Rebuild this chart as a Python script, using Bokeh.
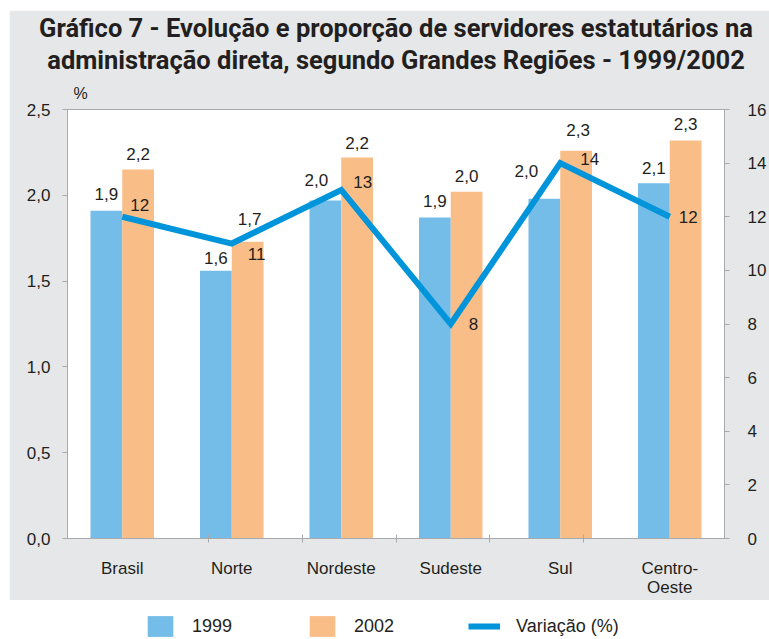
from bokeh.plotting import figure
from bokeh.models import (FactorRange, Range1d, LinearAxis, CategoricalAxis, FixedTicker,
                          Title, Legend, LegendItem, ColumnDataSource)
from bokeh.transform import dodge
from bokeh.layouts import column
from bokeh.embed import file_html
from bokeh.resources import INLINE

# ---------------- data ----------------
categories = ["Brasil", "Norte", "Nordeste", "Sudeste", "Sul", "Centro-\nOeste"]
prop_1999 = [1.91, 1.56, 1.97, 1.87, 1.98, 2.07]
prop_2002 = [2.15, 1.73, 2.22, 2.02, 2.26, 2.32]
labels_1999 = ["1,9", "1,6", "2,0", "1,9", "2,0", "2,1"]
labels_2002 = ["2,2", "1,7", "2,2", "2,0", "2,3", "2,3"]
variacao = [12, 11, 13, 8, 14, 12]
variacao_labels = ["12", "11", "13", "8", "14", "12"]
left_ticks = [0.0, 0.5, 1.0, 1.5, 2.0, 2.5]
left_tick_labels = ["0,0", "0,5", "1,0", "1,5", "2,0", "2,5"]
right_ticks = [0, 2, 4, 6, 8, 10, 12, 14, 16]
boundaries = ["b1", "b2", "b3", "b4", "b5"]   # separators between the regions

# label nudges (pixels)
var_dx = [8, 16, 12, 18, 20, 9]
var_dy = [-12, 10, -8, 0, -4, 0]
l99_dx = [0, 0, -9, 0, -18, 0]
l99_dy = [-17, -13, -20, -17, -28, -15]
l02_dx = [0, 2, 0, 0, 2, 0]
l02_dy = [-16, -23, -15, -16, -21, -16]

# ---------------- style ----------------
C99 = "#74bde8"
C02 = "#f9bd87"
CLINE = "#0095da"
GREY_BG = "#e6e7e8"
AXIS = "#a7a9ac"
TXT = "#231f20"
FONT = "Liberation Sans"
TFONT = "Roboto"
FS = "17px"

src = ColumnDataSource(dict(cat=categories, p99=prop_1999, p02=prop_2002,
                            l99=labels_1999, l02=labels_2002,
                            var=variacao, vl=variacao_labels, dx=var_dx, dy=var_dy,
                            dx99=l99_dx, dy99=l99_dy, dx02=l02_dx, dy02=l02_dy))

p = figure(x_range=FactorRange(factors=categories), y_range=Range1d(0, 2.5),
           width=760, height=590, output_backend="svg", toolbar_location=None,
           x_axis_location=None, min_border_left=58, min_border_right=42,
           min_border_bottom=62, min_border_top=97, margin=(10, 0, 0, 9))
p.border_fill_color = GREY_BG
p.background_fill_color = "white"
p.outline_line_color = AXIS
p.xgrid.visible = False
p.ygrid.visible = False

p.extra_y_ranges = {"var": Range1d(0, 16)}
p.extra_x_ranges = {"bnd": FactorRange(factors=boundaries, range_padding=1,
                                       range_padding_units="absolute")}

# titles (added from the frame outward)
p.add_layout(Title(text="%", align="left", offset=6, text_font=FONT, text_font_size="16px",
                   text_font_style="normal", text_color=TXT, standoff=16), "above")
p.add_layout(Title(text="administração direta, segundo Grandes Regiões - 1999/2002",
                   align="center", text_font=TFONT, text_font_size="25.5px",
                   text_font_style="bold", text_color=TXT, standoff=0), "above")
p.add_layout(Title(text="Gráfico 7 - Evolução e proporção de servidores estatutários na",
                   align="center", text_font=TFONT, text_font_size="25.5px",
                   text_font_style="bold", text_color=TXT, standoff=0), "above")

# left axis
ya = p.yaxis[0]
ya.ticker = FixedTicker(ticks=left_ticks)
ya.major_label_overrides = dict(zip(left_ticks, left_tick_labels))
ya.axis_line_color = AXIS
ya.major_tick_line_color = AXIS
ya.major_tick_in = 0
ya.major_tick_out = 5
ya.minor_tick_line_color = None
ya.major_label_standoff = 12
ya.major_label_text_font = FONT
ya.major_label_text_font_size = FS
ya.major_label_text_color = TXT

# right axis
ra = LinearAxis(y_range_name="var", ticker=FixedTicker(ticks=right_ticks))
ra.axis_line_color = AXIS
ra.major_tick_line_color = AXIS
ra.major_tick_in = 0
ra.major_tick_out = 5
ra.minor_tick_line_color = None
ra.major_label_standoff = 18
ra.major_label_text_font = FONT
ra.major_label_text_font_size = FS
ra.major_label_text_color = TXT
p.add_layout(ra, "right")

# bottom: separator ticks axis (no labels), then category labels
ta = CategoricalAxis(x_range_name="bnd")
ta.axis_line_color = AXIS
ta.major_tick_line_color = AXIS
ta.major_tick_in = 4
ta.major_tick_out = 4
ta.major_label_overrides = {b: "" for b in boundaries}
ta.major_label_text_font_size = "0px"
ta.major_label_standoff = 0
p.add_layout(ta, "below")

ca = CategoricalAxis()
ca.axis_line_color = None
ca.major_tick_line_color = None
ca.major_tick_in = 0
ca.major_tick_out = 0
ca.major_label_standoff = 16
ca.major_label_text_font = FONT
ca.major_label_text_font_size = FS
ca.major_label_text_color = TXT
ca.major_label_text_line_height = 1.05
p.add_layout(ca, "below")

# bars
W = 0.29
p.vbar(x=dodge("cat", -0.145, range=p.x_range), top="p99", width=W, source=src,
       fill_color=C99, line_color=None)
p.vbar(x=dodge("cat", 0.145, range=p.x_range), top="p02", width=W, source=src,
       fill_color=C02, line_color=None)

# line
p.line(x="cat", y="var", y_range_name="var", source=src, line_width=6, line_color=CLINE,
       line_join="miter")

# labels
p.text(x=dodge("cat", -0.145, range=p.x_range), y="p99", text="l99", source=src,
       text_align="center", text_baseline="alphabetic", x_offset="dx99", y_offset="dy99",
       text_font_size=FS, text_color=TXT, text_font={"value": FONT})
p.text(x=dodge("cat", 0.145, range=p.x_range), y="p02", text="l02", source=src,
       text_align="center", text_baseline="alphabetic", x_offset="dx02", y_offset="dy02",
       text_font_size=FS, text_color=TXT, text_font={"value": FONT})
p.text(x="cat", y="var", y_range_name="var", text="vl", source=src,
       text_align="left", text_baseline="middle", x_offset="dx", y_offset="dy",
       text_font_size=FS, text_color=TXT, text_font={"value": FONT})

# ---------------- legend strip ----------------
# legend renderers reuse the data but fall outside this strip's (invisible) ranges
lg = figure(width=769, height=39, x_range=FactorRange(factors=categories),
            y_range=Range1d(100, 101), output_backend="svg", toolbar_location=None,
            min_border=0, x_axis_location=None, y_axis_location=None)
lg.outline_line_color = None
lg.background_fill_color = "white"
lg.border_fill_color = "white"
lg.grid.visible = False
r1 = lg.vbar(x="cat", top="p99", width=W, source=src, fill_color=C99, line_color=None)
r2 = lg.vbar(x="cat", top="p02", width=W, source=src, fill_color=C02, line_color=None)
r3 = lg.line(x="cat", y="p99", source=src, line_width=6, line_color=CLINE)
legend = Legend(items=[LegendItem(label="1999", renderers=[r1]),
                       LegendItem(label="2002", renderers=[r2]),
                       LegendItem(label="Variação (%)", renderers=[r3])],
                orientation="horizontal", location=(86, 0),
                glyph_width=32, glyph_height=26, label_standoff=16, spacing=74,
                padding=0, margin=0, border_line_color=None, background_fill_alpha=0,
                label_text_font=FONT, label_text_font_size="18px", label_text_color=TXT)
lg.add_layout(legend, "center")

layout = column(p, lg)
open("out.html", "w").write(file_html(layout, INLINE))
